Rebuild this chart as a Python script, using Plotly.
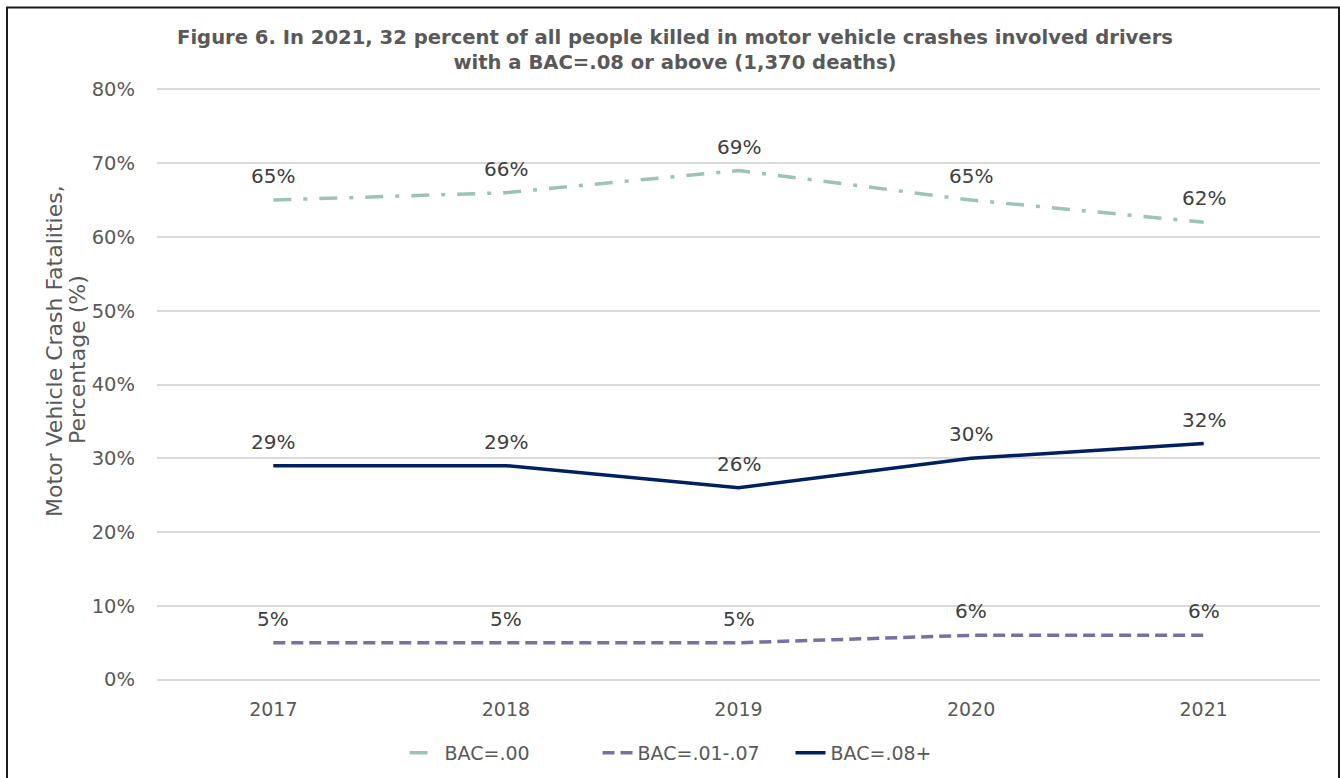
import plotly.graph_objects as go

years = ["2017", "2018", "2019", "2020", "2021"]
bac_00 = [65, 66, 69, 65, 62]
bac_01_07 = [5, 5, 5, 6, 6]
bac_08 = [29, 29, 26, 30, 32]
series_names = ["BAC=.00", "BAC=.01-.07", "BAC=.08+"]
y_ticks = [0, 10, 20, 30, 40, 50, 60, 70, 80]
y_tick_labels = [f"{v}%" for v in y_ticks]
title_lines = ["Figure 6. In 2021, 32 percent of all people killed in motor vehicle crashes involved drivers",
               "with a BAC=.08 or above (1,370 deaths)"]
y_title_lines = ["Motor Vehicle Crash Fatalities,", "Percentage (%)"]

colors = ["#9DC3B4", "#7A6FA0", "#002060"]
dashes = ["18px,12px,4px,12px", "12px,6px", "solid"]
FONT = "DejaVu Sans, sans-serif"
TXT = "#595959"

W, H = 1340, 778
# plot area: y=0 at pixel 680, y=80 at pixel 89; range padded by 1 unit each side
unit = (680 - 89) / 80
L, R = 157, 20
T = 89 - unit
B = (H - 680) - unit
pw = W - L - R
ph = H - T - B


def px_y(y):  # pixel row -> paper y
    return (H - B - y) / ph


def px_x(x):  # pixel column -> paper x
    return (x - L) / pw


fig = go.Figure()
for name, vals, c, d in zip(series_names, [bac_00, bac_01_07, bac_08], colors, dashes):
    fig.add_trace(go.Scatter(
        x=years, y=vals, name=name, mode="lines",
        line=dict(color=c, width=3.5, dash=d),
    ))
    for i, yv in enumerate(vals):
        fig.add_annotation(
            x=i, y=yv, xref="x", yref="y", text=f"{yv}%", showarrow=False, yshift=24,
            font=dict(family=FONT, size=20, color="#404040"),
        )

fig.add_annotation(
    x=px_x(675), y=px_y(50), xref="paper", yref="paper",
    text="<br>".join(title_lines), showarrow=False, xanchor="center", yanchor="middle",
    font=dict(family=FONT, size=19.6, color=TXT, weight="bold"),
)
for line, xc, yc in zip(y_title_lines, [54, 77], [351, 360]):
    fig.add_annotation(
        x=px_x(xc), y=px_y(yc), xref="paper", yref="paper", textangle=-90,
        text=line, showarrow=False, xanchor="center", yanchor="middle",
        font=dict(family=FONT, size=22, color=TXT),
    )

fig.update_layout(
    width=W, height=H,
    margin=dict(l=L, r=R, t=T, b=B, autoexpand=False),
    paper_bgcolor="white", plot_bgcolor="white",
    xaxis=dict(
        type="category", range=[-0.5, 4.5], showgrid=False, zeroline=False,
        showline=False, ticks="", ticklabelstandoff=9, automargin=False,
        tickfont=dict(family=FONT, size=19, color=TXT),
    ),
    yaxis=dict(
        range=[-1, 81], tickvals=y_ticks, ticktext=y_tick_labels,
        showgrid=True, gridcolor="#D9D9D9", gridwidth=1.5, zeroline=False,
        showline=False, ticks="", ticklabelstandoff=21, automargin=False,
        tickfont=dict(family=FONT, size=19.5, color=TXT),
    ),
    legend=dict(
        orientation="h", x=px_x(694), xanchor="center",
        yref="container", y=(H - 753) / H, yanchor="middle",
        font=dict(family=FONT, size=19, color=TXT),
        entrywidthmode="pixels", entrywidth=148,
    ),
    shapes=[dict(
        type="rect", xref="paper", yref="paper",
        x0=px_x(7), x1=px_x(1339), y0=px_y(800), y1=px_y(7),
        line=dict(color="#1a1a1a", width=2), fillcolor="rgba(0,0,0,0)", layer="above",
    )],
)

fig.write_html(
    "out.html",
    config={"displayModeBar": False},
    post_script="document.body.style.margin='0';document.body.style.overflow='hidden';",
)
